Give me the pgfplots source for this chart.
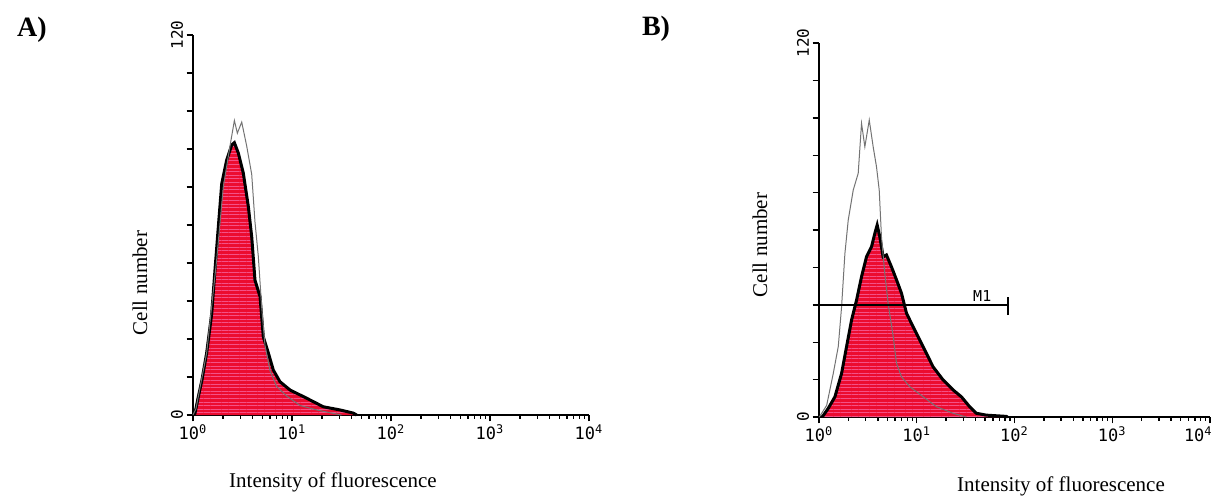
\documentclass[border=0pt]{standalone}
\usepackage{fontspec}
\setmainfont{Liberation Serif}
\newfontfamily\monofont{DejaVu Sans Mono}
\usepackage{pgfplots}
\usepackage{pgfplotstable}
\pgfplotsset{compat=1.18}
\usetikzlibrary{patterns.meta}

\definecolor{histred}{RGB}{236,12,48}
\definecolor{stripe}{RGB}{244,80,135}
\definecolor{ctrl}{RGB}{115,115,115}

% x = log10(intensity), y = cell number
\pgfplotstableread{
x y
0.000 0
0.020 0.5
0.054 5.8
0.090 11
0.138 19.6
0.189 32
0.222 45.8
0.256 59.5
0.290 73
0.340 80.5
0.391 85.3
0.418 86
0.458 82.7
0.508 76.4
0.559 65.8
0.593 56.3
0.626 42.6
0.677 37.4
0.710 24.7
0.761 19.6
0.811 14.2
0.879 10.5
0.980 7.9
1.148 5.3
1.316 2.6
1.485 1.6
1.619 0.6
1.653 0
}\histA

\pgfplotstableread{
x y
0.000 0
0.030 2
0.138 19.6
0.239 49
0.306 72
0.374 85
0.418 93
0.448 89
0.492 92.5
0.542 85
0.593 76
0.626 61
0.660 50
0.694 34
0.727 22
0.778 14
0.845 9
0.946 6
1.081 3
1.249 1.6
1.418 0.5
1.500 0
}\ctrlA

\pgfplotstableread{
x y
0.030 0
0.044 0.5
0.095 2.8
0.163 6.5
0.231 14
0.282 22.6
0.333 31.1
0.384 37.5
0.435 45
0.486 51.4
0.537 54.6
0.571 58.9
0.595 61.6
0.622 57.8
0.656 51.4
0.690 52
0.741 48.2
0.793 44
0.844 39.7
0.895 33.3
0.962 29
1.031 24.7
1.099 20.4
1.167 16.1
1.269 11.9
1.371 8.7
1.456 6.5
1.541 3.3
1.609 1.2
1.711 0.6
1.915 0.2
1.930 0
}\histB

\pgfplotstableread{
x y
0.003 0
0.078 3.7
0.146 14
0.197 22.6
0.231 35.4
0.265 52.5
0.299 63.2
0.350 72.8
0.401 78.2
0.435 94.2
0.469 86.7
0.514 95.3
0.554 86.7
0.588 80.3
0.616 72.8
0.639 57.8
0.673 46.1
0.707 36.5
0.759 25.8
0.793 17.2
0.844 12.9
0.929 9.7
1.065 6.5
1.201 3.3
1.371 1.2
1.507 0
}\ctrlB

\pgfplotsset{flowaxis/.style={
  scale only axis,
  xmin=0, xmax=4, ymin=0, ymax=120,
  axis x line=bottom, axis y line=left,
  axis line style={-, line width=0.9pt},
  tick align=outside, major tick length=3.2pt, minor tick length=1.8pt,
  every tick/.style={black, line width=0.7pt},
  xtick={0,1,2,3,4},
  xticklabels={10\textsuperscript{0},10\textsuperscript{1},10\textsuperscript{2},10\textsuperscript{3},10\textsuperscript{4}},
  minor xtick={0.301,0.477,0.602,0.699,0.778,0.845,0.903,0.954,
    1.301,1.477,1.602,1.699,1.778,1.845,1.903,1.954,
    2.301,2.477,2.602,2.699,2.778,2.845,2.903,2.954,
    3.301,3.477,3.602,3.699,3.778,3.845,3.903,3.954},
  ytick={0,12,...,120},
  yticklabels={0,,,,,,,,,,120},
  xticklabel style={font=\monofont\fontsize{8.5}{9}\selectfont, inner sep=1.5pt},
  yticklabel style={rotate=90, anchor=south, inner sep=1.5pt, font=\monofont\fontsize{8}{9}\selectfont},
  clip=false,
}}

\begin{document}
\begin{tikzpicture}
\useasboundingbox (0,0) rectangle (609pt,249.5pt);

% ---------- Panel A ----------
\begin{axis}[flowaxis, width=198pt, height=190pt, at={(96.5pt,42pt)}, anchor=south west]
  \addplot[fill=histred, draw=none] table {\histA} \closedcycle;
  \addplot[draw=none, pattern={Lines[angle=0,distance=1.8pt,line width=0.3pt]}, pattern color=stripe] table {\histA} \closedcycle;
  \addplot[black, line width=1.5pt] table {\histA};
  \addplot[ctrl, line width=0.5pt] table {\ctrlA};
\end{axis}

% ---------- Panel B ----------
\begin{axis}[flowaxis, width=195.5pt, height=187pt, at={(409.5pt,41pt)}, anchor=south west,
  xticklabels={10\textsuperscript{0},10\textsuperscript{1},10\textsuperscript{2},10\textsuperscript{3},\makebox[26pt][l]{10\textsuperscript{4}}}]
  \addplot[fill=histred, draw=none] table {\histB} \closedcycle;
  \addplot[draw=none, pattern={Lines[angle=0,distance=1.8pt,line width=0.3pt]}, pattern color=stripe] table {\histB} \closedcycle;
  \addplot[black, line width=1.5pt] table {\histB};
  \addplot[ctrl, line width=0.5pt] table {\ctrlB};
  % M1 marker
  \addplot[black, line width=0.9pt] coordinates {(0,36) (1.93,36)};
  \addplot[black, line width=0.9pt] coordinates {(1.93,32.7) (1.93,38.5)};
  \node[anchor=south, font=\monofont\fontsize{7.5}{8}\selectfont, inner sep=1pt] at (axis cs:1.67,36.3) {M1};
\end{axis}

% ---------- labels ----------
\node[font=\fontsize{14}{16}\selectfont\bfseries] at (16pt,234.5pt) {A)};
\node[font=\fontsize{14}{16}\selectfont\bfseries] at (328pt,235pt) {B)};
\node[rotate=90, font=\fontsize{10.5}{12}\selectfont] at (70pt,108pt) {Cell number};
\node[rotate=90, font=\fontsize{10.5}{12}\selectfont] at (380pt,127pt) {Cell number};
\node[font=\fontsize{10.5}{12}\selectfont] at (166.5pt,8.5pt) {Intensity of fluorescence};
\node[font=\fontsize{10.5}{12}\selectfont] at (530.5pt,6.5pt) {Intensity of fluorescence};
\end{tikzpicture}
\end{document}
